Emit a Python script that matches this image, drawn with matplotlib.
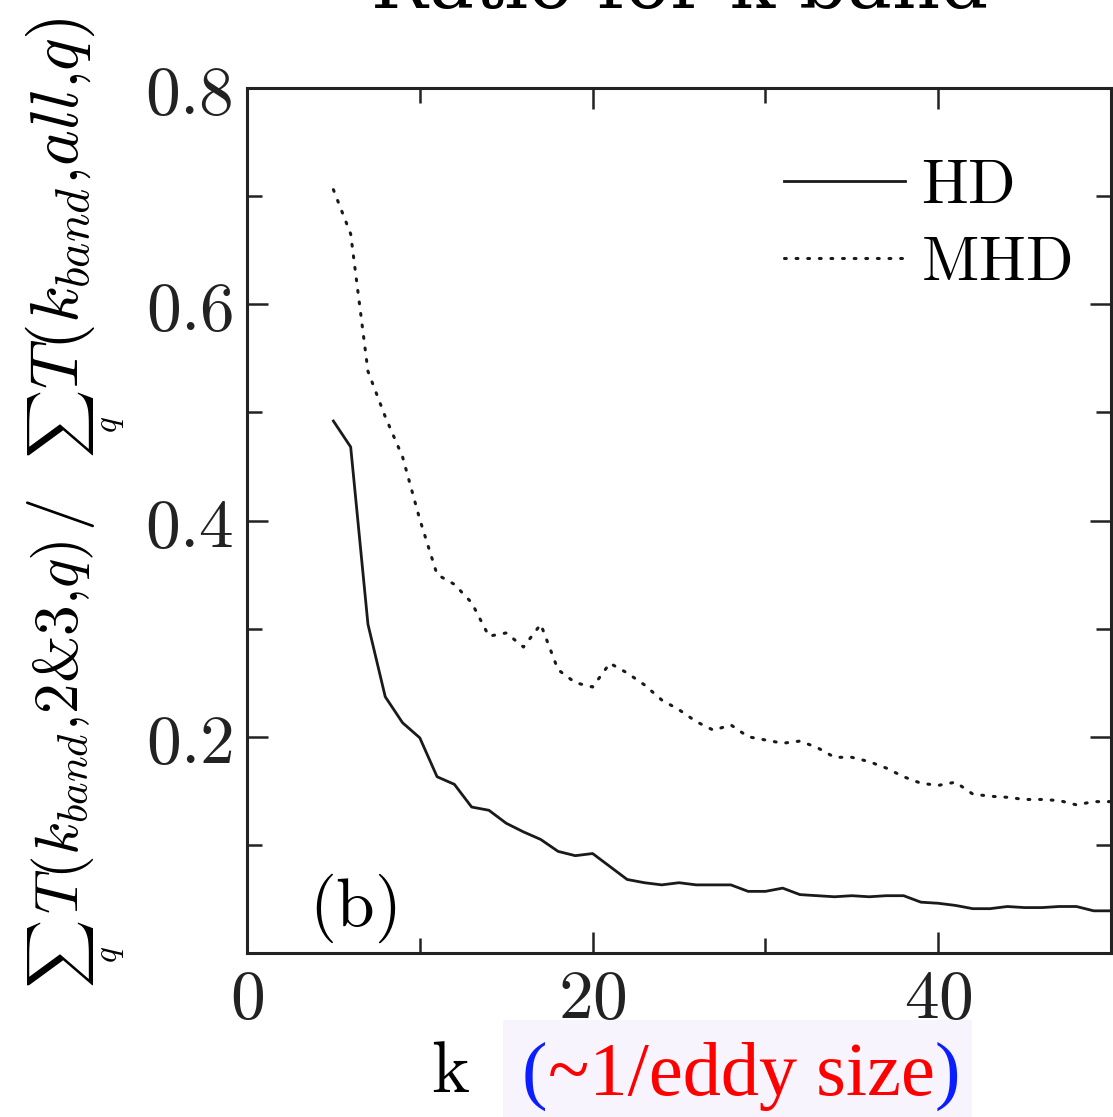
import numpy as np
import matplotlib
matplotlib.use('Agg')
import matplotlib.pyplot as plt
from matplotlib.patches import Rectangle

# values (k = 5..50)
k = np.arange(5, 51)
hd = [0.492, 0.468, 0.304, 0.237, 0.213, 0.199, 0.163, 0.156, 0.135, 0.132,
      0.120, 0.112, 0.105, 0.094, 0.090, 0.092, 0.080, 0.068, 0.065, 0.063,
      0.065, 0.063, 0.063, 0.063, 0.057, 0.057, 0.060, 0.054, 0.053, 0.052,
      0.053, 0.052, 0.053, 0.053, 0.047, 0.046, 0.044, 0.041, 0.041, 0.043,
      0.042, 0.042, 0.043, 0.043, 0.039, 0.039]
mhd = [0.706, 0.665, 0.538, 0.496, 0.459, 0.401, 0.350, 0.341, 0.324, 0.293,
       0.296, 0.283, 0.304, 0.262, 0.250, 0.246, 0.268, 0.259, 0.248, 0.234,
       0.225, 0.214, 0.206, 0.211, 0.200, 0.197, 0.194, 0.196, 0.190, 0.181,
       0.181, 0.177, 0.171, 0.163, 0.157, 0.155, 0.158, 0.147, 0.145, 0.144,
       0.142, 0.142, 0.141, 0.137, 0.140, 0.140]
series_labels = ['HD', 'MHD']
xticks = [0, 20, 40]
xminor = [10, 30]
yticks = [0.2, 0.4, 0.6, 0.8]
yminor = [0.1, 0.3, 0.5, 0.7]

plt.rcParams['mathtext.fontset'] = 'cm'
plt.rcParams['font.family'] = 'serif'

W, H = 1113, 1117
fig = plt.figure(figsize=(W / 100, H / 100), dpi=100)
ax = fig.add_axes([247 / W, 1 - 953 / H, 864 / W, 865 / H])

ax.plot(k, hd, color='#1a1a1a', lw=2.0, label=r'$\mathrm{%s}$' % series_labels[0])
ax.plot(k, mhd, color='#1a1a1a', lw=2.2, ls=(0, (0.6, 3.2)), dash_capstyle='round',
        label=r'$\mathrm{%s}$' % series_labels[1])

ax.set_xlim(0, 50)
ax.set_ylim(0, 0.8)
ax.set_xticks(xticks)
ax.set_xticks(xminor, minor=True)
ax.set_yticks(yticks)
ax.set_yticks(yminor, minor=True)
ax.set_xticklabels([r'$\mathrm{%d}$' % v for v in xticks])
ax.set_yticklabels([r'$\mathrm{%.1f}$' % v for v in yticks])
ax.tick_params(which='both', direction='in', top=True, right=True, width=1.8, colors='#222222')
ax.tick_params(which='major', length=15, labelsize=50, pad=10)
ax.tick_params(which='minor', length=10.5)
ax.tick_params(axis='x', which='major', pad=9)
for s in ax.spines.values():
    s.set_linewidth(2.2)
    s.set_color('#222222')

leg = ax.legend(loc='upper right', bbox_to_anchor=(0.983, 0.952), frameon=False,
                fontsize=45, handlelength=1.94, handletextpad=0.26,
                labelspacing=0.26, borderaxespad=0)

ax.text(3.6, 0.025, r'$\mathrm{(b)}$', fontsize=50, ha='left', va='baseline')

# y label, built from pieces (sum, numerator, slash, sum, denominator)
base_x = 78 / W
ylab_parts = [(r'$\sum_q$', 34, 988),
              (r'$T(k_{band}{,}2&3{,}q)$', 44, 914),
              (r'$/$', 48, 531),
              (r'$\sum_q$', 34, 458),
              (r'$T(k_{band}{,}all{,}q)$', 49, 389)]
for txt, fs, ystart in ylab_parts:
    fig.text(base_x, 1 - ystart / H, txt, rotation=90, rotation_mode='anchor',
             ha='left', va='baseline', fontsize=fs)

renderer = fig.canvas.get_renderer()

# title, almost entirely outside the figure: only the feet of the letters show
fig.text(680 / W, (H - 24) / H, 'Ratio for k band', ha='center', va='bottom',
         fontsize=54, family='DejaVu Serif')

# x label and the annotation box
fig.text(450 / W, 1 - 1092 / H, r'$\mathrm{k}$', ha='center', va='baseline', fontsize=52)
fig.patches.append(Rectangle((503 / W, 0), 469 / W, 97 / H, transform=fig.transFigure,
                             facecolor='#f8f4fe', edgecolor='none', zorder=0))

x0 = 522 / W
yb = 1 - 1095 / H
for piece, col in [('(', '#0a1eff'), ('~1/eddy size', '#ff0000'), (')', '#0a1eff')]:
    t = fig.text(x0, yb, piece, color=col, fontsize=55, family='Liberation Serif',
                 ha='left', va='baseline')
    bb = t.get_window_extent(renderer)
    x0 = bb.x1 / W

fig.savefig('out.png', dpi=100)
